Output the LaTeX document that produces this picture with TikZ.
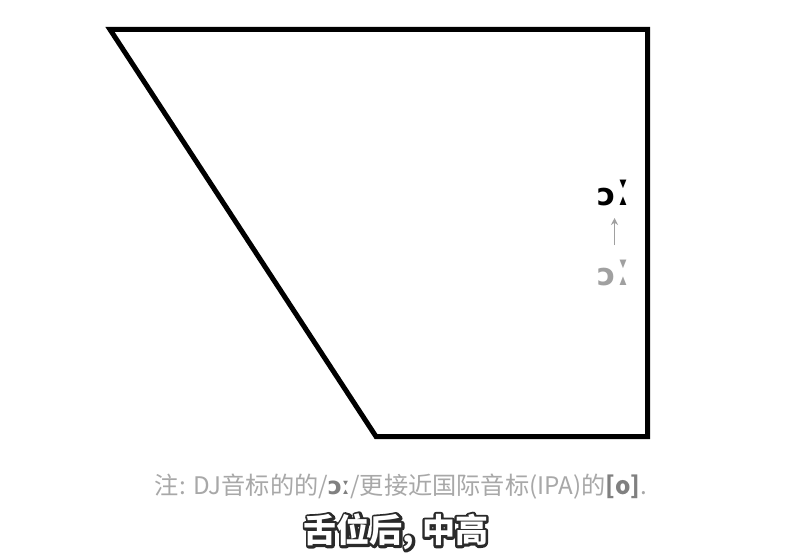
\documentclass[tikz,border=0pt]{standalone}
\usepackage{fontspec}
\usepackage{graphicx}
\setmainfont{Noto Sans CJK SC}
\newfontfamily\ipa{DejaVu Sans}
\usetikzlibrary{arrows.meta}
\definecolor{notegray}{HTML}{A8A8A8}
\definecolor{symgray}{HTML}{A0A0A0}
\definecolor{outl}{HTML}{2A2A2A}
\newcommand\strokedtext[1]{\special{pdf:code 1 Tr 5 w 1 j}#1\special{pdf:code 0 Tr 1 w 0 j}}
\newcommand\longmark{\hspace{3pt}\scalebox{1.1}[1.5]{ː}}
\begin{document}
\begin{tikzpicture}[x=1pt,y=-1pt,
  frame/.style={line width=5pt,line join=miter,black},
  sym/.style={font=\ipa\bfseries\fontsize{31}{31}\selectfont,inner sep=0pt},
  note/.style={font=\fontsize{24.2}{24.2}\selectfont,text=notegray,inner sep=0pt},
  title/.style={font=\bfseries\fontsize{33}{33}\selectfont,inner sep=0pt}]
\useasboundingbox[fill=white] (0,0) rectangle (808,556);
\coordinate (tl) at (110,29.5);
\coordinate (tr) at (647.5,29.5);
\coordinate (br) at (647.5,436.5);
\coordinate (bl) at (376,436.5);
\draw[frame] (tl) -- (tr) -- (br) -- (bl) -- cycle;
\node[sym,text=black] (s1) at (613.5,193.5) {ɔ\longmark};
\node[sym,text=symgray] (s2) at (613.5,273.5) {ɔ\longmark};
\coordinate (a0) at (614.5,245);
\coordinate (a1) at (614.5,218);
\draw[symgray,line width=1.8pt,-{Stealth[length=7pt,width=7pt]}] (a0) -- (a1);
\node[note] (n) at (401,487) {注: DJ音标的的/{\ipa\bfseries\color{gray}ɔː}/更接近国际音标(IPA)的{\color{gray}\bfseries[o]}.};
\node[title,text=outl] (tb) at (396,532) {\strokedtext{舌位后, 中高}};
\node[title,text=white] (t) at (tb.center) {舌位后, 中高};
\end{tikzpicture}
\end{document}
